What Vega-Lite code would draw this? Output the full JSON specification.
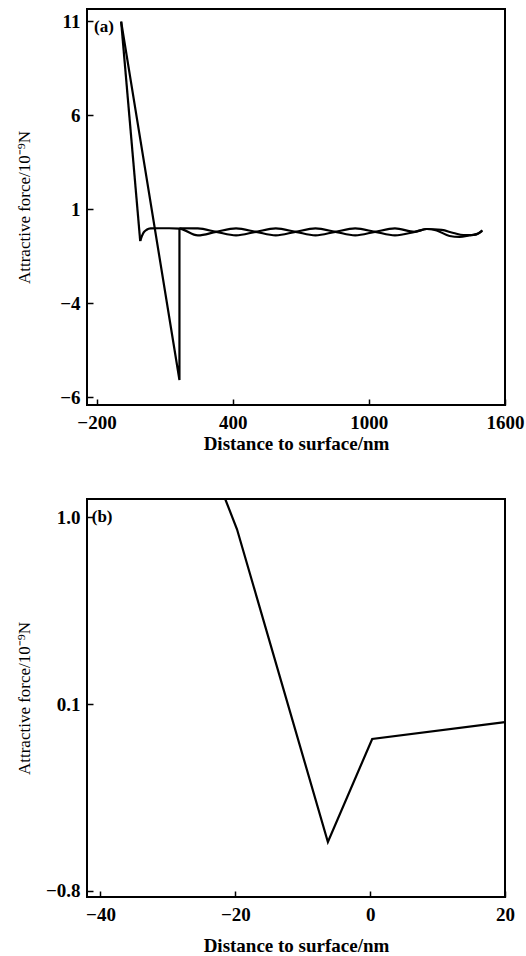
{
  "$schema": "https://vega.github.io/schema/vega-lite/v6.json",
  "background": "white",
  "padding": {"left": 14, "top": 8, "right": 2, "bottom": 0},
  "spacing": 44,
  "config": {
    "view": {"stroke": "black", "strokeWidth": 2},
    "font": "Liberation Serif",
    "axis": {
      "domain": false, "grid": false, "tickSize": -6, "tickColor": "black", "tickWidth": 1.5,
      "labelFont": "Liberation Serif", "labelFontSize": 19, "labelFontWeight": "bold", "labelColor": "black",
      "labelFlush": false, "labelOverlap": false,
      "titleFont": "Liberation Serif", "titleFontSize": 17, "titleColor": "black"
    },
    "axisX": {"labelPadding": 14, "titleFontWeight": "bold", "titleFontSize": 19, "titlePadding": 2},
    "axisY": {"labelPadding": 13, "titleFontWeight": "normal"}
  },
  "datasets": {
    "topLinear": [
      {"s": "A", "i": 0, "x": -91.5, "y": 10.99},
      {"s": "A", "i": 1, "x": -7.5, "y": -0.68},
      {"s": "B", "i": 0, "x": -91.5, "y": 10.99},
      {"s": "B", "i": 1, "x": 165.4, "y": -8.07},
      {"s": "B", "i": 2, "x": 165.4, "y": 0.0}
    ],
    "topSmooth": [
      {"s": "A", "x": -7.5, "y": -0.68},
      {"s": "A", "x": -1.0, "y": -0.45},
      {"s": "A", "x": 7.8, "y": -0.22},
      {"s": "A", "x": 20.9, "y": -0.08},
      {"s": "A", "x": 38.5, "y": -0.01},
      {"s": "A", "x": 73.5, "y": 0.0},
      {"s": "A", "x": 120, "y": 0.0},
      {"s": "A", "x": 165.4, "y": -0.02},
      {"s": "A", "x": 246.4, "y": -0.38},
      {"s": "A", "x": 327.3, "y": -0.19},
      {"s": "A", "x": 414.8, "y": -0.01},
      {"s": "A", "x": 502.3, "y": -0.19},
      {"s": "A", "x": 589.9, "y": -0.38},
      {"s": "A", "x": 677.4, "y": -0.19},
      {"s": "A", "x": 764.9, "y": -0.01},
      {"s": "A", "x": 852.4, "y": -0.19},
      {"s": "A", "x": 940, "y": -0.38},
      {"s": "A", "x": 1027.5, "y": -0.19},
      {"s": "A", "x": 1115, "y": -0.01},
      {"s": "A", "x": 1202.5, "y": -0.19},
      {"s": "A", "x": 1255, "y": -0.04},
      {"s": "A", "x": 1320.7, "y": -0.09},
      {"s": "A", "x": 1373.2, "y": -0.25},
      {"s": "A", "x": 1417, "y": -0.36},
      {"s": "A", "x": 1460.7, "y": -0.36},
      {"s": "A", "x": 1487, "y": -0.25},
      {"s": "A", "x": 1500, "y": -0.11},
      {"s": "B", "x": 165.4, "y": 0.0},
      {"s": "B", "x": 246.4, "y": -0.01},
      {"s": "B", "x": 327.3, "y": -0.19},
      {"s": "B", "x": 414.8, "y": -0.38},
      {"s": "B", "x": 502.3, "y": -0.19},
      {"s": "B", "x": 589.9, "y": -0.01},
      {"s": "B", "x": 677.4, "y": -0.19},
      {"s": "B", "x": 764.9, "y": -0.38},
      {"s": "B", "x": 852.4, "y": -0.19},
      {"s": "B", "x": 940, "y": -0.01},
      {"s": "B", "x": 1027.5, "y": -0.19},
      {"s": "B", "x": 1115, "y": -0.38},
      {"s": "B", "x": 1202.5, "y": -0.19},
      {"s": "B", "x": 1255, "y": -0.04},
      {"s": "B", "x": 1298.7, "y": -0.12},
      {"s": "B", "x": 1355.7, "y": -0.41},
      {"s": "B", "x": 1399.4, "y": -0.46},
      {"s": "B", "x": 1443.2, "y": -0.38},
      {"s": "B", "x": 1478.2, "y": -0.30},
      {"s": "B", "x": 1500, "y": -0.14}
    ],
    "bottom": [
      {"i": 0, "x": -21.5, "y": 1.088},
      {"i": 1, "x": -19.75, "y": 0.942},
      {"i": 2, "x": -6.27, "y": -0.564},
      {"i": 3, "x": 0.3, "y": -0.068},
      {"i": 4, "x": 20.0, "y": 0.013}
    ]
  },
  "vconcat": [
    {
      "width": 418,
      "height": 396,
      "encoding": {
        "x": {"field": "x", "type": "quantitative",
          "scale": {"domain": [-242, 1600], "nice": false, "zero": false},
          "axis": {"values": [-200, 400, 1000, 1600], "format": "d", "title": "Distance to surface/nm"}},
        "y": {"field": "y", "type": "quantitative",
          "scale": {"domain": [-9.4, 11.66], "nice": false, "zero": false},
          "axis": {"values": [-9, -4, 1, 6, 11], "format": "d", "titlePadding": 26.5,
            "labelExpr": "datum.value == -9 ? '\u22126' : datum.label",
            "title": "Attractive force/10\u207b\u2079N"}}
      },
      "layer": [
        {"data": {"name": "topLinear"},
          "mark": {"type": "line", "color": "black", "strokeWidth": 2.2, "clip": true},
          "encoding": {"detail": {"field": "s"}, "order": {"field": "i", "type": "quantitative"}}},
        {"data": {"name": "topSmooth"},
          "mark": {"type": "line", "color": "black", "strokeWidth": 2.2, "interpolate": "monotone", "clip": true},
          "encoding": {"detail": {"field": "s"}}},
        {"data": {"values": [{"t": "(a)", "x": -211, "y": 10.72}]},
          "mark": {"type": "text", "align": "left", "baseline": "middle", "font": "Liberation Serif", "fontWeight": "bold", "fontSize": 17, "color": "black"},
          "encoding": {"text": {"field": "t"}}}
      ]
    },
    {
      "width": 418,
      "height": 398,
      "encoding": {
        "x": {"field": "x", "type": "quantitative",
          "scale": {"domain": [-42, 20], "nice": false, "zero": false},
          "axis": {"values": [-40, -20, 0, 20], "format": "d", "titlePadding": 12, "title": "Distance to surface/nm"}},
        "y": {"field": "y", "type": "quantitative",
          "scale": {"domain": [-0.829, 1.088], "nice": false, "zero": false},
          "axis": {"values": [-0.8, 0.1, 1.0], "format": ".1f", "titlePadding": 11.5,
            "title": "Attractive force/10\u207b\u2079N"}}
      },
      "layer": [
        {"data": {"name": "bottom"},
          "mark": {"type": "line", "color": "black", "strokeWidth": 2.2, "clip": true},
          "encoding": {"order": {"field": "i", "type": "quantitative"}}},
        {"data": {"values": [{"t": "(b)", "x": -41.3, "y": 1.0}]},
          "mark": {"type": "text", "align": "left", "baseline": "middle", "font": "Liberation Serif", "fontWeight": "bold", "fontSize": 17, "color": "black"},
          "encoding": {"text": {"field": "t"}}}
      ]
    }
  ]
}
